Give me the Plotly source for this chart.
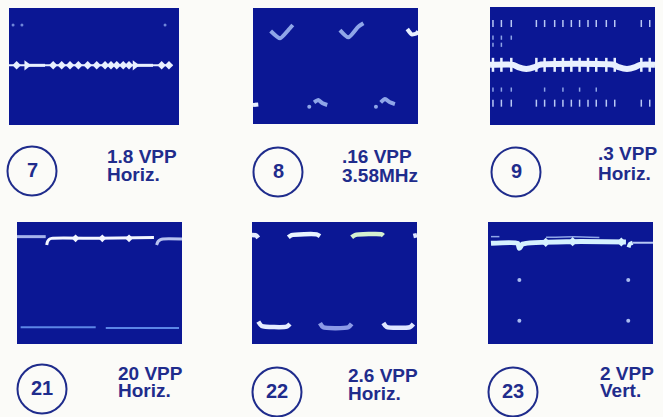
import plotly.graph_objects as go

# ── canvas / style ──────────────────────────────────────────────
W, H = 663, 417
SCREEN = "#0b1794"
INK = "#1f2c8c"
PAPER = "#fbfbf8"
FONT = "Liberation Sans, Arial, sans-serif"

# ── labels ─────────────────────────────────────────────────────
PANEL_IDS = ["7", "8", "9", "21", "22", "23"]
PANEL_VPP = ["1.8 VPP", ".16 VPP", ".3 VPP", "20 VPP", "2.6 VPP", "2 VPP"]
PANEL_NOTE = ["Horiz.", "3.58MHz", "Horiz.", "Horiz.", "Horiz.", "Vert."]

# ── waveform data (screen units 0-100 each way) ────────────────
# 7
W7_LINE_X = [0, 96]
W7_LINE_Y = [51, 51]
W7_THICK_X = [[10.4, 21.2], [74.1, 84.7]]
W7_THICK_Y = [[51, 51], [51, 51]]
W7_BLIP_X = [4.5, 26, 31, 35.9, 40.8, 46.3, 51.6, 56.5, 60, 63.4, 67.2, 70.6, 89.8, 94.1]
W7_BLIP_Y = [51] * 14
W7_HEAD_X = [10.4, 74.1]
W7_HEAD_Y = [51, 51]
W7_DOT_X = [2.4, 7.6, 91.8]
W7_DOT_Y = [85.5, 85.5, 85.5]

# 8
W8_CHECK_X = [[10.7, 16.4, 21.4, 24.1], [52.7, 57.8, 63.8, 66.9]]
W8_CHECK_Y = [[80.2, 73.9, 81.0, 85.3], [81.0, 74.7, 83.9, 86.8]]
W8_TILDE_X = [[37, 39.6, 42.2, 45], [77.4, 80, 83, 86]]
W8_TILDE_Y = [[18.7, 20.7, 17.8, 16.4], [18.7, 21.6, 18.7, 17.2]]
W8_TDOT_X = [34.1, 74.5]
W8_TDOT_Y = [14.9, 14.9]
W8_EDGE_X = [[93.5, 96.2, 99.2, 100], [0, 3.2]]
W8_EDGE_Y = [[81.9, 77.3, 78.2, 80.2], [16.4, 16.9]]

# 9
W9_BAND_X = [0, 14, 17, 22, 27, 30, 75, 78, 83, 88, 91, 100]
W9_BAND_Y = [51, 51, 49, 47.5, 49, 51, 51, 49, 47.5, 49, 51, 51]
W9_COLS = [1.8, 6.9, 12.9, 28.1, 33.1, 39.2, 44.2, 49.3, 54.3, 59.4, 64.4, 70.5, 75.6, 91.7, 96.8]
W9_ROW_TOP = [86] * 15
W9_ROW_BOT = [18.5] * 15
W9_EXTRA_X = [1.8, 6.9, 12.9, 1.8, 6.9, 1.8, 6.9, 12.9, 33.1, 44.2, 54.3, 64.4]
W9_EXTRA_Y = [74, 74, 74, 68, 68, 30, 30, 30, 30, 30, 30, 30]

# 21
W21_TOP_X = [[0, 17.4], [18, 18.5, 19.5, 21, 50, 83], [84.6, 85.5, 87, 88.5, 100]]
W21_TOP_Y = [[88, 88], [81.1, 84, 85.8, 86.6, 86.6, 87.2], [81.1, 84, 85.6, 86.1, 86.1]]
W21_BLIP_X = [35.5, 51.7, 67.9]
W21_BLIP_Y = [86.6, 86.6, 86.6]
W21_BOT_X = [[2.2, 47.7], [53.8, 98.2]]
W21_BOT_Y = [[13.7, 13.7], [13.1, 13.1]]

# 22
W22_SEG_X = [
    [0, 2.5, 3.8],
    [22, 24, 39.2, 41.2],
    [60.4, 62.4, 78.6, 79.6],
    [97.8, 100],
    [3.8, 5.9, 21, 23],
    [41.2, 43.2, 58.4, 60.4],
    [79.6, 81.6, 95.8, 97.8],
]
W22_SEG_Y = [
    [89.3, 89, 87],
    [87.5, 89.3, 89.9, 88.5],
    [87.5, 89.3, 89.9, 88.9],
    [88.5, 89.3],
    [18.3, 14.8, 14.2, 16.4],
    [17.2, 13.7, 13.7, 16.4],
    [17.2, 13.9, 13.9, 16.4],
]

# 23
W23_MAIN_X = [1.8, 18, 19, 21, 51.3, 83.6]
W23_MAIN_Y = [82.5, 82.5, 78.4, 81.9, 83.9, 83.6]
W23_NEXT_X = [85.2, 86, 87.7]
W23_NEXT_Y = [79.2, 82, 83]
W23_TAIL_X = [87.7, 100]
W23_TAIL_Y = [83, 83]
W23_FAINT_X = [[1.8, 6.9], [35.2, 52, 67.5]]
W23_FAINT_Y = [[88, 88], [87.4, 88, 87.2]]
W23_BLIP_X = [35, 51.3, 80.8]
W23_BLIP_Y = [83.3, 83.9, 83.6]
W23_DOT_X = [19, 85, 19, 85]
W23_DOT_Y = [52.5, 52.5, 19.1, 19.1]

# ── layout geometry (pixels) ───────────────────────────────────
PANEL_BOX = [(9, 8, 179, 125), (253, 8, 418, 124), (490, 7, 655, 125),
             (17, 222, 182, 344), (252, 222, 417, 344), (488, 222, 653, 344)]
CIRCLE_C = [(32, 171), (278, 172), (516, 172), (42, 389), (277, 392), (513, 392)]
CIRCLE_R = 24.5
LABEL_POS = [(106, 156, 174), (341, 156.5, 175), (597, 153.5, 173),
             (117, 373.5, 390), (347, 375, 393.5), (599, 373.5, 390.5)]


def px(x):
    return x / W


def py(y):
    return 1 - y / H


fig = go.Figure()


def line(k, xs, ys, color, width):
    fig.add_scatter(x=xs, y=ys, mode="lines", line=dict(color=color, width=width,
                    shape="spline", smoothing=0.6), xaxis=f"x{k}", yaxis=f"y{k}",
                    hoverinfo="skip", showlegend=False)


def dots(k, xs, ys, color, size, symbol="circle", lw=0):
    fig.add_scatter(x=xs, y=ys, mode="markers",
                    marker=dict(color=color, size=size, symbol=symbol,
                                line=dict(color=color, width=lw)),
                    xaxis=f"x{k}", yaxis=f"y{k}", hoverinfo="skip", showlegend=False)


WHITE = "#e8f0ff"
PALE = "#8fa6e8"

# panel 7
line(1, W7_LINE_X, W7_LINE_Y, WHITE, 2)
for xs, ys in zip(W7_THICK_X, W7_THICK_Y):
    line(1, xs, ys, WHITE, 3)
dots(1, W7_BLIP_X, W7_BLIP_Y, WHITE, 6.5, "diamond")
dots(1, W7_HEAD_X, W7_HEAD_Y, WHITE, 9, "triangle-right")
dots(1, W7_DOT_X, W7_DOT_Y, "#6f86d8", 3)

# panel 8
for xs, ys in zip(W8_CHECK_X, W8_CHECK_Y):
    line(2, xs, ys, PALE, 4)
for xs, ys in zip(W8_TILDE_X, W8_TILDE_Y):
    line(2, xs, ys, PALE, 4)
dots(2, W8_TDOT_X, W8_TDOT_Y, PALE, 4)
for xs, ys in zip(W8_EDGE_X, W8_EDGE_Y):
    line(2, xs, ys, WHITE, 4)

# panel 9
line(3, W9_BAND_X, W9_BAND_Y, WHITE, 6)
dots(3, W9_COLS, W9_BAND_Y[:1] * len(W9_COLS), WHITE, 10, "line-ns", 2.5)
dots(3, W9_COLS, W9_ROW_TOP, "#b9c8f4", 5, "line-ns", 1.5)
dots(3, W9_COLS, W9_ROW_BOT, "#b9c8f4", 5, "line-ns", 1.5)
dots(3, W9_EXTRA_X, W9_EXTRA_Y, "#8ea4e6", 3, "line-ns", 1.5)

# panel 21
line(4, W21_TOP_X[0], W21_TOP_Y[0], "#a5b3ec", 3)
line(4, W21_TOP_X[1], W21_TOP_Y[1], "#f2f6ff", 3)
line(4, W21_TOP_X[2], W21_TOP_Y[2], "#b7c3f0", 3)
dots(4, W21_BLIP_X, W21_BLIP_Y, "#f2f6ff", 6, "diamond")
for xs, ys in zip(W21_BOT_X, W21_BOT_Y):
    line(4, xs, ys, "#5c86e6", 2)

# panel 22
W22_COLORS = ["#e4ecff", "#e8f4ff", "#d5f0d0", "#dfe6ff", "#e6ecff", "#8c9ae6", "#dfe6ff"]
for xs, ys, c in zip(W22_SEG_X, W22_SEG_Y, W22_COLORS):
    line(5, xs, ys, c, 4.5)

# panel 23
for xs, ys in zip(W23_FAINT_X, W23_FAINT_Y):
    line(6, xs, ys, PALE, 1.5)
line(6, W23_MAIN_X, W23_MAIN_Y, "#d6f2ff", 5)
line(6, W23_NEXT_X, W23_NEXT_Y, "#d6f2ff", 4)
line(6, W23_TAIL_X, W23_TAIL_Y, "#b8c8f4", 2)
dots(6, W23_BLIP_X, W23_BLIP_Y, "#d6f2ff", 7, "diamond")
dots(6, W23_DOT_X, W23_DOT_Y, "#a9bbf0", 4)

# ── axes, circles, labels ──────────────────────────────────────
layout = {}
shapes, annotations = [], []
for i, (x0, y0, x1, y1) in enumerate(PANEL_BOX, start=1):
    ax = dict(range=[0, 100], visible=False, fixedrange=True)
    layout[f"xaxis{i}"] = dict(ax, domain=[px(x0), px(x1)], anchor=f"y{i}")
    layout[f"yaxis{i}"] = dict(ax, domain=[py(y1), py(y0)], anchor=f"x{i}")

for pid, vpp, note, (cx, cy), (lx, l1, l2) in zip(
        PANEL_IDS, PANEL_VPP, PANEL_NOTE, CIRCLE_C, LABEL_POS):
    shapes.append(dict(type="circle", xref="paper", yref="paper",
                       x0=px(cx - CIRCLE_R), x1=px(cx + CIRCLE_R),
                       y0=py(cy + CIRCLE_R), y1=py(cy - CIRCLE_R),
                       line=dict(color=INK, width=2)))
    annotations.append(dict(x=px(cx), y=py(cy - 1), xref="paper", yref="paper",
                            text=f"<b>{pid}</b>", showarrow=False,
                            xanchor="center", yanchor="middle",
                            font=dict(family=FONT, size=20, color=INK)))
    for txt, ly in ((vpp, l1), (note, l2)):
        annotations.append(dict(x=px(lx), y=py(ly), xref="paper", yref="paper",
                                text=f"<b>{txt}</b>", showarrow=False,
                                xanchor="left", yanchor="middle", borderpad=0,
                                font=dict(family=FONT, size=19, color=INK)))

fig.update_layout(
    width=W, height=H,
    margin=dict(l=0, r=0, t=0, b=0),
    paper_bgcolor=PAPER, plot_bgcolor=SCREEN,
    shapes=shapes, annotations=annotations,
    **layout,
)

# the page body has a default 8px margin; drop it so the figure fills the window
fig.write_html("out.html", config={"displayModeBar": False},
               post_script="document.body.style.margin='0';")
